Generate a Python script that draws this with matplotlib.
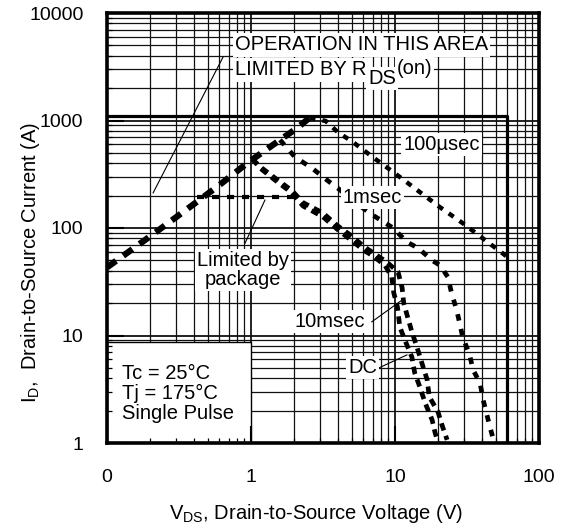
from matplotlib import pyplot as plt
from matplotlib.patches import Rectangle
import numpy as np

plt.rcParams['font.family'] = ['Liberation Sans', 'DejaVu Sans']
plt.rcParams['mathtext.fontset'] = 'custom'
plt.rcParams['mathtext.rm'] = 'Liberation Sans'
plt.rcParams['mathtext.it'] = 'Liberation Sans:italic'

#curves, VDS in V and ID in A
rds_v = [0.1, 0.21, 0.36, 0.59, 0.95, 1.59, 2.09, 2.55]
rds_i = [43, 88, 150, 245, 405, 660, 850, 1060]

pkg_v = [0.42, 2.1]
pkg_i = [195, 195]

us100_v = [2.55, 3.3, 4.0, 5.1, 7.0, 9.7, 20.4, 29.5, 56, 60]
us100_i = [1060, 990, 780, 630, 457, 332, 157, 111, 58, 54]

ms1_v = [1.59, 2.02, 2.65, 3.37, 4.0, 6.0, 7.0, 9.7, 12.1, 14.5, 18.1, 20.5,
         23.3, 24.7, 26.8, 28.3, 29.5, 33, 34.8, 39, 41, 45.7, 49]
ms1_i = [660, 457, 361, 279, 235, 153, 132, 100, 74, 65, 50, 45,
         35, 24.8, 17.3, 12.5, 9.7, 6.6, 4.8, 3.6, 2.5, 1.4, 1.0]

ms10_v = [1.02, 1.155, 1.54, 1.93, 2.3, 3.16, 3.95, 4.9, 6.19, 7.03, 8.8, 10.5,
          11.2, 11.5, 12.3, 13.1, 14.2, 15.4, 16.7, 17.3, 19.9, 21.2, 23.0]
ms10_i = [440, 372, 278, 222, 172, 138, 106, 86, 66, 59, 48, 39,
          28, 20, 14.5, 10.8, 7.8, 5.5, 3.9, 2.7, 1.94, 1.47, 1.07]

dc_v = [1.02, 1.155, 1.54, 1.93, 2.3, 3.16, 3.95, 4.9, 6.19, 7.03, 8.52, 9.5,
        9.8, 10.4, 10.8, 11.7, 13.1, 13.7, 14.9, 16.2, 18.1, 19.0, 20.0]
dc_i = [440, 361, 265, 212, 160, 127, 98, 78, 61, 55, 45, 35,
        25, 18.4, 12, 9.1, 6.3, 4.5, 3.3, 2.36, 1.64, 1.24, 1.0]

#safe operating area limits
v_max = 60
i_max = 1100

x_ticks = [0.1, 1, 10, 100]
x_labels = ['0', '1', '10', '100']
y_ticks = [1, 10, 100, 1000, 10000]
y_labels = ['1', '10', '100', '1000', '10000']

fig = plt.figure(figsize=(5.65, 5.29), dpi=100)
ax = fig.add_axes([107/565, 1-443/529, 432/565, 430/529])
ax.set_xscale('log')
ax.set_yscale('log')
ax.set_xlim(0.1, 100)
ax.set_ylim(1, 10000)

#grid drawn by hand so the white boxes can cover it
for d in [0.1, 1, 10]:
    for k in range(1, 10):
        lw = 1.3 if k == 1 else 0.9
        ax.axvline(d*k, color='#111111', lw=lw, zorder=0.8)
for d in [1, 10, 100, 1000]:
    for k in range(1, 10):
        lw = 1.3 if k == 1 else 0.9
        ax.axhline(d*k, color='#111111', lw=lw, zorder=0.8)

#box behind the conditions text
ax.add_patch(Rectangle((0.1, 1), 0.9, 7.7, facecolor='white', edgecolor='black', lw=1.0, zorder=1))

ax.plot([0.1, v_max, v_max], [i_max, i_max, 1], color='black', lw=2.3, zorder=2, solid_capstyle='butt')

ax.plot(rds_v, rds_i, color='black', lw=4.5, dashes=(1.8, 1.4), zorder=4)
ax.plot(pkg_v, pkg_i, color='black', lw=3.0, dashes=(1.7, 1.9), zorder=4)
ax.plot(us100_v, us100_i, color='black', lw=3.2, dashes=(1.35, 1.6), zorder=4)
ax.plot(ms1_v, ms1_i, color='black', lw=3.4, dashes=(1.4, 1.8), zorder=4)
ax.plot(ms10_v, ms10_i, color='black', lw=3.4, dashes=(1.6, 1.2), zorder=4)
ax.plot(dc_v, dc_i, color='black', lw=3.4, dashes=(1.6, 1.2), zorder=4)

ax.set_xticks(x_ticks)
ax.set_xticklabels(x_labels)
ax.set_yticks(y_ticks)
ax.set_yticklabels(y_labels)
ax.minorticks_on()
ax.xaxis.set_minor_formatter(plt.NullFormatter())
ax.yaxis.set_minor_formatter(plt.NullFormatter())
ax.tick_params(which='major', direction='in', length=12, width=1.5, labelsize=14, pad=17)
ax.tick_params(axis='x', which='major', pad=19)
ax.tick_params(which='minor', direction='in', length=3.5, width=0.9)
for s in ax.spines.values():
    s.set_linewidth(2.6)
    s.set_zorder(6)

ax.set_xlabel(r'$\mathregular{V_{DS}}$, Drain-to-Source Voltage (V)', fontsize=14.5)
ax.set_ylabel(r'$\mathregular{I_D}$,  Drain-to-Source Current (A)', fontsize=14.5)
ax.xaxis.set_label_coords(0.484, -0.137)
ax.yaxis.set_label_coords(-0.151, 0.42)

box = dict(facecolor='white', edgecolor='none', pad=1.5)
fs = 14.5
ax.text(0.77, 5040, 'OPERATION IN THIS AREA', fontsize=fs, va='center', bbox=box, zorder=5)
t2 = ax.text(0.77, 2950, 'LIMITED BY R', fontsize=fs, va='center', bbox=box, zorder=5)
t3 = ax.annotate('DS', xy=(1, 0.5), xycoords=t2, xytext=(1.5, -6), textcoords='offset points',
                 fontsize=fs, va='center', ha='left', bbox=box, zorder=5)
ax.annotate('(on)', xy=(1, 0.5), xycoords=t3, xytext=(0.5, 7), textcoords='offset points',
            fontsize=fs, va='center', ha='left', bbox=box, zorder=5)
ax.plot([0.209, 0.64], [212, 3900], color='black', lw=0.8, zorder=3)

ax.text(11.4, 592, '100µsec', fontsize=fs, va='center', bbox=box, zorder=5)
ax.text(4.35, 194, '1msec', fontsize=fs, va='center', bbox=box, zorder=5)
ax.text(0.88, 40.7, 'Limited by\npackage', fontsize=fs, va='center', ha='center',
        linespacing=1.05, bbox=box, zorder=5)
ax.plot([0.91, 1.25], [72.4, 182], color='black', lw=0.8, zorder=3)
ax.text(2.02, 13.4, '10msec', fontsize=fs, va='center', bbox=box, zorder=5)
ax.plot([6.9, 11.2], [13.4, 21.4], color='black', lw=0.8, zorder=3)
ax.text(4.72, 5.0, 'DC', fontsize=fs, va='center', bbox=box, zorder=5)
ax.plot([7.74, 12.1], [5.0, 6.6], color='black', lw=0.8, zorder=3)

ax.text(0.127, 2.9, 'Tc = 25°C\nTj = 175°C\nSingle Pulse', fontsize=fs, va='center',
        linespacing=1.05, zorder=5)

fig.savefig('out.png', dpi=100)
